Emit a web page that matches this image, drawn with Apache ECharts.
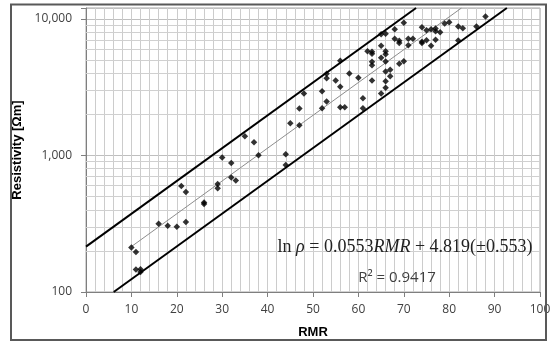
<!DOCTYPE html>
<html><head><meta charset="utf-8">
<script src="https://cdn.jsdelivr.net/npm/echarts@6/dist/echarts.min.js"></script>
<style>html,body{margin:0;padding:0;background:#fff}#c{width:552px;height:341px}</style>
</head><body><div id="c"></div>
<script>
// Measured points (RMR, resistivity in Ohm·m)
const rmrValues = [10,11,11,12,12,16,18,20,22,21,22,26,26,29,29,30,32,32,33,35,37,38,44,44,45,47,47,48,52,52,53,53,53,55,56,56,56,57,58,60,61,61,62,63,63,63,63,63,65,65,65,65,66,66,66,66,66,66,66,67,67,68,68,69,69,69,70,70,71,71,72,74,74,74,75,75,76,76,77,77,77,78,79,80,82,82,83,86,88];
const rhoValues = [212,196,146,147,140,316,306,301,326,598,540,452,440,618,576,964,881,690,656,1380,1247,1002,1019,852,1719,2203,1662,2836,2950,2213,2477,3955,3672,3532,3175,4925,2251,2251,3980,3698,2620,2213,5790,5750,5550,4842,4571,3532,7711,6340,5180,2836,7780,5790,5505,4866,4111,3490,3122,4229,3797,8393,7140,6900,6650,4680,9347,4895,7140,6406,7140,8680,6780,6650,8250,6970,8400,6340,8490,8110,7020,7980,9240,9440,8780,6936,8540,8780,10400];
// Regression line and +/- band end points
const fitRmr = [10, 82.7], fitRho = [215, 12000];
const upperRmr = [0, 72.7], upperRho = [215, 12000];
const lowerRmr = [6.1, 92.7], lowerRho = [100, 12000];
// Axis ticks
const yMajorLabels = [100, 1000, 10000];
const yMinorGrid = [200,300,400,500,600,700,800,900,2000,3000,4000,5000,6000,7000,8000,9000];
const xMin = 0, xMax = 100, xInterval = 10;
const yMin = 100, yMax = 12000;

const pts = rmrValues.map((x, i) => [x, rhoValues[i]]);
const pair = (xs, ys) => xs.map((x, i) => [x, ys[i]]);

const chart = echarts.init(document.getElementById('c'), null, {renderer: 'canvas'});
const labelFont = '"Open Sans", sans-serif';
chart.setOption({
  animation: false,
  backgroundColor: '#fff',
  grid: {left: 86, right: 12, top: 8, bottom: 49, show: true, borderColor: '#a6a6a6', borderWidth: 1,
         containLabel: false, outerBoundsMode: 'none', z: 0},
  xAxis: {
    type: 'value', min: xMin, max: xMax, interval: xInterval, z: 0,
    name: 'RMR', nameLocation: 'middle', nameGap: 34,
    nameTextStyle: {fontFamily: '"Liberation Sans", Arial, sans-serif', fontWeight: 'bold', fontSize: 13, color: '#000'},
    axisLine: {lineStyle: {color: '#7f7f7f', width: 1}},
    axisTick: {show: true, length: 5, lineStyle: {color: '#7f7f7f'}},
    axisLabel: {fontFamily: labelFont, fontSize: 12, color: '#404040', margin: 12},
    splitLine: {show: true, lineStyle: {color: '#cccccc', width: 1}},
    minorTick: {show: false, splitNumber: 5},
    minorSplitLine: {show: true, lineStyle: {color: '#cccccc', width: 1}}
  },
  yAxis: {
    type: 'log', logBase: 10, min: yMin, max: yMax, z: 0,
    name: 'Resistivity [Ωm]', nameLocation: 'middle', nameGap: 55,
    nameTextStyle: {fontFamily: '"Liberation Sans", Arial, sans-serif', fontWeight: 'bold', fontSize: 13, color: '#000'},
    axisLine: {show: true, lineStyle: {color: '#7f7f7f', width: 1}},
    axisTick: {show: true, length: 5, lineStyle: {color: '#7f7f7f'}},
    axisLabel: {fontFamily: labelFont, fontSize: 12, color: '#404040', margin: 14,
      formatter: v => { const r = Math.round(v); return yMajorLabels.includes(r) ? r.toLocaleString('en-US') : ''; }},
    splitLine: {show: true, lineStyle: {color: '#bfbfbf', width: 1}}
  },
  series: [
    {type: 'line', data: [], z: 1, silent: true,
     markLine: {silent: true, symbol: ['none', 'none'], label: {show: false}, animation: false, z: 1,
       lineStyle: {color: '#d0d0d0', width: 1, type: 'solid'},
       data: yMinorGrid.map(v => ({yAxis: v}))}},
    {type: 'line', data: pair(fitRmr, fitRho), showSymbol: false, symbol: 'none', z: 10,
     lineStyle: {color: '#8c8c8c', width: 1}},
    {type: 'line', data: pair(upperRmr, upperRho), showSymbol: false, symbol: 'none', z: 10,
     lineStyle: {color: '#000', width: 2}},
    {type: 'line', data: pair(lowerRmr, lowerRho), showSymbol: false, symbol: 'none', z: 10,
     lineStyle: {color: '#000', width: 2}},
    {type: 'scatter', data: pts, symbol: 'diamond', symbolSize: 6.5, z: 12,
     itemStyle: {color: '#000'}}
  ],
  graphic: [
    {type: 'rect', shape: {x: 11, y: 4.5, width: 535, height: 335.5}, z: 100,
     style: {fill: 'none', stroke: '#595959', lineWidth: 2}},
    {type: 'text', x: 405, y: 247, z: 100,
     style: {text: '{a|ln }{i|ρ}{a| = 0.0553}{i|RMR}{a| + 4.819(±0.553)}', align: 'center', verticalAlign: 'middle',
       rich: {a: {fontFamily: '"Liberation Serif", "Times New Roman", serif', fontSize: 18, fill: '#222'},
              i: {fontFamily: '"Liberation Serif", "Times New Roman", serif', fontSize: 18, fontStyle: 'italic', fill: '#222'}}}},
    {type: 'text', x: 397, y: 278, z: 100,
     style: {text: 'R² = 0.9417', align: 'center', verticalAlign: 'middle',
       font: '15px "Open Sans", sans-serif', fill: '#404040'}}
  ]
});
</script>
</body></html>
